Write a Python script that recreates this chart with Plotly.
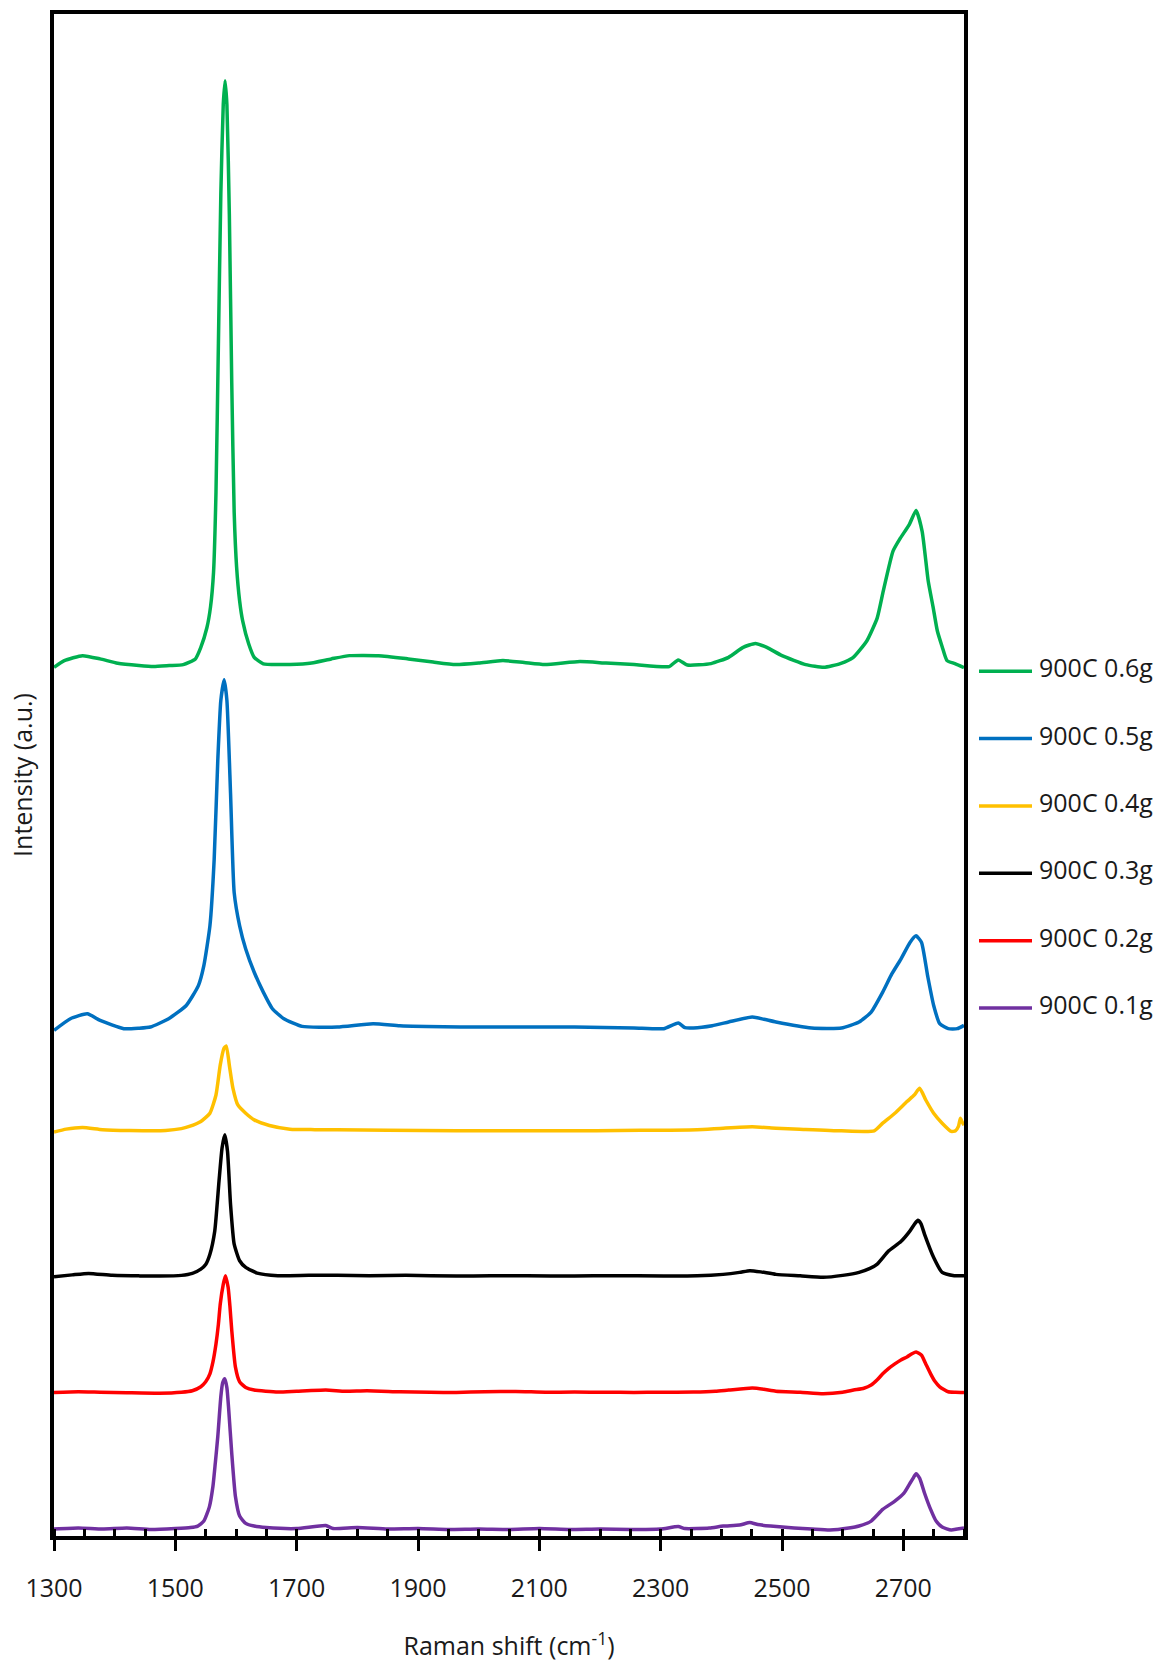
import plotly.graph_objects as go

# ---- Raman spectra (stacked, arbitrary intensity units) ----
wn_06 = [1300, 1317, 1347, 1376, 1405, 1440, 1464, 1490, 1513, 1533, 1542, 1552, 1558, 1563, 1567,
         1571, 1575, 1579, 1582, 1585, 1589, 1593, 1597, 1601, 1606, 1611, 1621, 1630, 1645, 1669,
         1718, 1757, 1787, 1835, 1884, 1925, 1962, 2000, 2040, 2075, 2109, 2167, 2210, 2256, 2314,
         2329, 2344, 2383, 2412, 2436, 2456, 2475, 2500, 2539, 2569, 2596, 2617, 2640, 2657, 2667,
         2683, 2695, 2710, 2721, 2731, 2741, 2749, 2756, 2764, 2772, 2785, 2800]
int_06 = [874.3, 881, 886, 882.7, 878.3, 876, 875, 876, 877, 882.7, 894.3, 914, 935, 970, 1050,
          1200, 1350, 1440, 1464, 1440, 1330, 1160, 1030, 975, 941, 921, 897.7, 884.3, 877.7, 877,
          878, 882.7, 886, 886, 882.7, 879.5, 877, 878.5, 881, 879, 877, 880, 878.5, 877, 875,
          881.7, 876.5, 878, 884.3, 894.3, 898.3, 894.3, 886, 877, 874.3, 878, 884, 901, 924, 951,
          991, 1004, 1018, 1032, 1011, 961, 935, 911, 895, 881, 878, 874]

wn_05 = [1300, 1327, 1355, 1376, 1415, 1440, 1459, 1489, 1518, 1538, 1547, 1557, 1564, 1570, 1575,
         1580.5, 1585, 1591, 1597, 1606, 1616, 1630, 1645, 1660, 1679, 1709, 1767, 1826, 1870, 1914,
         1970, 2021, 2080, 2158, 2256, 2305, 2329, 2340, 2354, 2385, 2412, 2451, 2470, 2490, 2549,
         2598, 2627, 2647, 2666, 2681, 2696, 2711, 2721, 2730, 2740, 2750, 2760, 2774, 2789, 2800]
int_05 = [509.3, 521, 526, 519.3, 511, 511.5, 512.7, 521, 534.3, 554.3, 574.3, 614.3, 681, 781, 841,
          861.7, 841, 747.7, 647.7, 614.3, 591, 567.7, 547.7, 531, 521, 513.3, 512.7, 516, 514, 513.3,
          512.7, 512.7, 512.7, 512.7, 511.7, 511, 516.7, 512, 511.7, 514, 517.7, 522.7, 520.5, 517.7, 511.7,
          511.7, 517.7, 527.7, 547.7, 566, 581, 597.7, 604.3, 597.7, 564.3, 534.3, 516, 511, 511, 514.3]

wn_04 = [1300, 1320, 1347, 1380, 1425, 1484, 1510, 1523, 1542, 1557, 1567, 1574, 1580, 1584, 1589,
         1595, 1603, 1616, 1630, 1655, 1689, 1730, 1767, 1850, 1963, 2060, 2158, 2230, 2305, 2360,
         2403, 2451, 2490, 2529, 2598, 2652, 2666, 2686, 2706, 2718, 2727, 2737, 2750, 2764, 2779,
         2786, 2791, 2794, 2797, 2800]
int_04 = [407, 410, 411.7, 409.5, 408.7, 408.7, 410.5, 412.7, 417.7, 426, 444.3, 474.3, 491, 493.7, 474.3,
          451, 434.3, 426, 419.3, 413.7, 410, 409.5, 409.3, 409, 408.3, 408.5, 408.3, 408.7, 409, 409.5,
          411, 412.3, 411, 410, 408.3, 408.3, 416, 426, 437.7, 444.3, 451, 439.3, 426, 416, 407.7,
          408.3, 413, 421, 417, 414]

wn_03 = [1300, 1330, 1357, 1396, 1440, 1474, 1510, 1528, 1542, 1550, 1557, 1565, 1572, 1577, 1581.5,
         1586, 1591, 1597, 1606, 1616, 1635, 1669, 1720, 1767, 1820, 1880, 1963, 2020, 2080, 2158,
         2220, 2305, 2360, 2403, 2430, 2447, 2465, 2490, 2530, 2568, 2600, 2627, 2645, 2657, 2676,
         2696, 2711, 2719, 2724, 2729, 2735, 2750, 2764, 2784, 2800]
int_03 = [261.7, 263.5, 265, 263, 262.5, 262.3, 263, 265, 269.3, 274, 284.3, 307.7, 357.7, 391, 404.3,
          387.7, 334.3, 294.3, 277.7, 271, 265.3, 262.7, 263, 263, 262.7, 263, 262.3, 262.7, 262.5, 262.3,
          262.7, 262.3, 262.5, 264, 266, 267.7, 266.5, 264, 262.5, 261, 263, 266, 270, 274.3, 287.7,
          297, 307.7, 315, 318.3, 315, 304.3, 281, 266, 262.7, 262.7]

wn_02 = [1300, 1340, 1376, 1420, 1474, 1510, 1528, 1542, 1550, 1557, 1562, 1567, 1571, 1574, 1579,
         1582.5, 1587, 1590, 1593, 1599, 1606, 1616, 1630, 1669, 1700, 1748, 1780, 1816, 1870, 1920,
         1963, 2010, 2061, 2110, 2158, 2210, 2256, 2300, 2354, 2390, 2412, 2451, 2470, 2490, 2530,
         2568, 2600, 2618, 2635, 2647, 2657, 2666, 2676, 2686, 2696, 2706, 2715, 2721, 2730, 2737,
         2745, 2752, 2760, 2774, 2786, 2800]
int_02 = [145.3, 146, 145.5, 145, 144.5, 145.5, 147, 151, 156, 164, 176, 194, 214, 234, 254,
          262.7, 251, 232, 207.7, 171, 156, 150.3, 147.7, 145.7, 146.5, 147.7, 146.5, 147, 146, 145.5,
          145.3, 146, 146.3, 145.5, 145.7, 145.5, 145.3, 145.5, 145.7, 146.5, 147.7, 149.7, 148.5, 146.5, 145.5,
          144, 145.5, 147.7, 149.5, 152.7, 158, 164, 169.5, 174, 178, 181, 184.5, 186, 182.7, 174,
          164, 156.5, 151, 146, 145.5, 145.3]

wn_01 = [1300, 1340, 1380, 1420, 1460, 1500, 1525, 1537, 1547, 1556, 1562, 1566, 1570, 1575, 1578,
         1581.5, 1585, 1588, 1593, 1599, 1606, 1616, 1630, 1650, 1700, 1748, 1760, 1800, 1850, 1900,
         1950, 2000, 2050, 2100, 2150, 2200, 2250, 2300, 2329, 2340, 2380, 2403, 2430, 2447, 2460,
         2481, 2520, 2549, 2579, 2610, 2627, 2647, 2666, 2686, 2701, 2711, 2717, 2721, 2727, 2735,
         2745, 2754, 2764, 2779, 2789, 2800]
int_01 = [8, 9, 8, 9, 7.5, 8.5, 9.5, 11, 16, 30, 51, 75, 101, 141, 155,
          159, 150, 128, 84, 41, 21, 13.7, 11, 9.5, 8.5, 11.5, 8.5, 9.5, 8, 8.5,
          7.5, 8, 7.5, 8.5, 7.5, 8, 7.5, 8, 10.5, 8.5, 9, 11, 12, 14.5, 12.5,
          11, 9, 8, 7, 9, 11, 16, 27.7, 36, 44, 54, 60, 63.7, 59, 44,
          27.7, 16, 10, 7, 8, 9]

labels = ["900C 0.6g", "900C 0.5g", "900C 0.4g", "900C 0.3g", "900C 0.2g", "900C 0.1g"]
colors = ["#00B050", "#0070C0", "#FFC000", "#000000", "#FF0000", "#7030A0"]
wavenumbers = [wn_06, wn_05, wn_04, wn_03, wn_02, wn_01]
intensities = [int_06, int_05, int_04, int_03, int_02, int_01]

FONT = "Open Sans"
TEXT = "#1a1a1a"

# plot-area geometry in pixels
W, H = 1164, 1667
M_L, M_R, M_T, M_B = 54, 200, 10, 127
PW, PH = W - M_L - M_R, H - M_T - M_B

fig = go.Figure()
for wn, it, name, col in zip(wavenumbers, intensities, labels, colors):
    fig.add_trace(go.Scatter(x=wn, y=it, mode="lines", name=name,
                             line=dict(color=col, width=3.5, shape="spline", smoothing=0.5),
                             showlegend=False))

# hand-placed legend to the right of the frame
LEG_X0, LEG_X1, LEG_TX = 979, 1032, 1037
LEG_Y0, LEG_DY = 670.7, 67.7
for i, (name, col) in enumerate(zip(labels, colors)):
    py = LEG_Y0 + i * LEG_DY
    yp = (M_T + PH - py) / PH
    fig.add_shape(type="line", xref="paper", yref="paper",
                  x0=(LEG_X0 - M_L) / PW, x1=(LEG_X1 - M_L) / PW, y0=yp, y1=yp,
                  line=dict(color=col, width=3.5))
    fig.add_annotation(xref="paper", yref="paper", x=(LEG_TX - M_L) / PW,
                       y=(M_T + PH - (py - 4)) / PH, text=name, showarrow=False,
                       xanchor="left", yanchor="middle",
                       font=dict(family=FONT, size=25, color=TEXT))

axis_common = dict(showline=True, linecolor="black", linewidth=3.5, mirror=True,
                   showgrid=False, zeroline=False)

fig.update_layout(
    width=W, height=H,
    margin=dict(l=M_L, r=M_R, t=M_T, b=M_B),
    paper_bgcolor="white", plot_bgcolor="white",
    font=dict(family=FONT, size=25, color=TEXT),
    xaxis=dict(range=[1300, 2800], tick0=1300, dtick=200,
               ticks="outside", ticklen=11, tickwidth=3.3, tickcolor="black",
               minor=dict(dtick=50, tick0=1300, ticks="inside", ticklen=7,
                          tickwidth=3, tickcolor="black"),
               ticklabelstandoff=16,
               tickfont=dict(family=FONT, size=25, color=TEXT),
               title=dict(text="Raman shift (cm<sup>-1</sup>)", standoff=36,
                          font=dict(family=FONT, size=25, color=TEXT)),
               **axis_common),
    yaxis=dict(range=[1, 1531], showticklabels=False, ticks="",
               title=dict(text="Intensity (a.u.)", standoff=12,
                          font=dict(family=FONT, size=25, color=TEXT)),
               **axis_common),
)

fig.write_html("out.html")
